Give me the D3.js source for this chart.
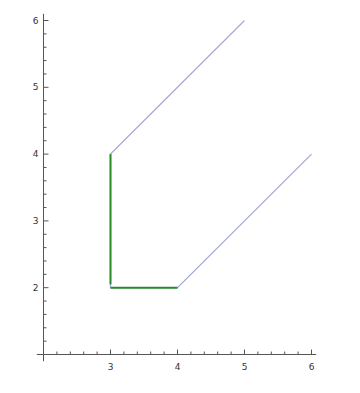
<!DOCTYPE html>
<html>
<head>
<meta charset="utf-8">
<script src="https://cdn.jsdelivr.net/npm/d3@7"></script>
<style>
  body { margin: 0; background: #fff; }
  #chart { width: 360px; height: 393px; }
</style>
</head>
<body>
<div id="chart"></div>
<script>
// path of the purple curve
const pathX = [5, 3, 3, 4, 6];
const pathY = [6, 4, 2, 2, 4];

// green highlighted pieces
const greenSegments = [
  [[3, 4], [3, 2.05]],
  [[3, 2], [4, 2]],
];

const xTicks = [3, 4, 5, 6];
const yTicks = [2, 3, 4, 5, 6];

const width = 360, height = 393;

const svg = d3.select("#chart")
  .append("svg")
  .attr("width", width)
  .attr("height", height);

const x = d3.scaleLinear().domain([2, 6]).range([43.5, 311.5]);
const y = d3.scaleLinear().domain([1, 6]).range([354.5, 20.5]);

const axisColor = "#555";

// x axis line
svg.append("line")
  .attr("x1", x(1.9)).attr("x2", x(6.07))
  .attr("y1", y(1)).attr("y2", y(1))
  .attr("stroke", axisColor).attr("stroke-width", 1);

// y axis line
svg.append("line")
  .attr("x1", x(2)).attr("x2", x(2))
  .attr("y1", y(0.9)).attr("y2", y(6.1))
  .attr("stroke", axisColor).attr("stroke-width", 1);

// ticks
const minorX = d3.range(2.2, 6.01, 0.2);
const minorY = d3.range(1.2, 6.01, 0.2);
const isMajor = v => Math.abs(v - Math.round(v)) < 1e-6;

svg.append("g")
  .selectAll("line")
  .data(minorX)
  .join("line")
  .attr("x1", d => x(d)).attr("x2", d => x(d))
  .attr("y1", y(1))
  .attr("y2", d => y(1) - (isMajor(d) ? 5 : 3))
  .attr("stroke", axisColor);

svg.append("g")
  .selectAll("line")
  .data(minorY)
  .join("line")
  .attr("y1", d => y(d)).attr("y2", d => y(d))
  .attr("x1", x(2))
  .attr("x2", d => x(2) + (isMajor(d) ? 5 : 3))
  .attr("stroke", axisColor);

// tick labels
svg.append("g")
  .selectAll("text")
  .data(xTicks)
  .join("text")
  .attr("x", d => x(d))
  .attr("y", y(1) + 15)
  .attr("text-anchor", "middle")
  .attr("font-family", "DejaVu Sans, sans-serif")
  .attr("font-size", "9px")
  .attr("fill", "#333")
  .text(d => d);

svg.append("g")
  .selectAll("text")
  .data(yTicks)
  .join("text")
  .attr("x", x(2) - 5)
  .attr("y", d => y(d) + 3)
  .attr("text-anchor", "end")
  .attr("font-family", "DejaVu Sans, sans-serif")
  .attr("font-size", "9px")
  .attr("fill", "#333")
  .text(d => d);

// purple path
const pts = pathX.map((v, i) => [v, pathY[i]]);
const line = d3.line().x(d => x(d[0])).y(d => y(d[1]));

svg.append("path")
  .attr("d", line(pts))
  .attr("fill", "none")
  .attr("stroke", "#a6a6dc")
  .attr("stroke-width", 1.2);

// green pieces
svg.append("g")
  .selectAll("path")
  .data(greenSegments)
  .join("path")
  .attr("d", d => line(d))
  .attr("fill", "none")
  .attr("stroke", "#2a8a2a")
  .attr("stroke-width", 2);
</script>
</body>
</html>
